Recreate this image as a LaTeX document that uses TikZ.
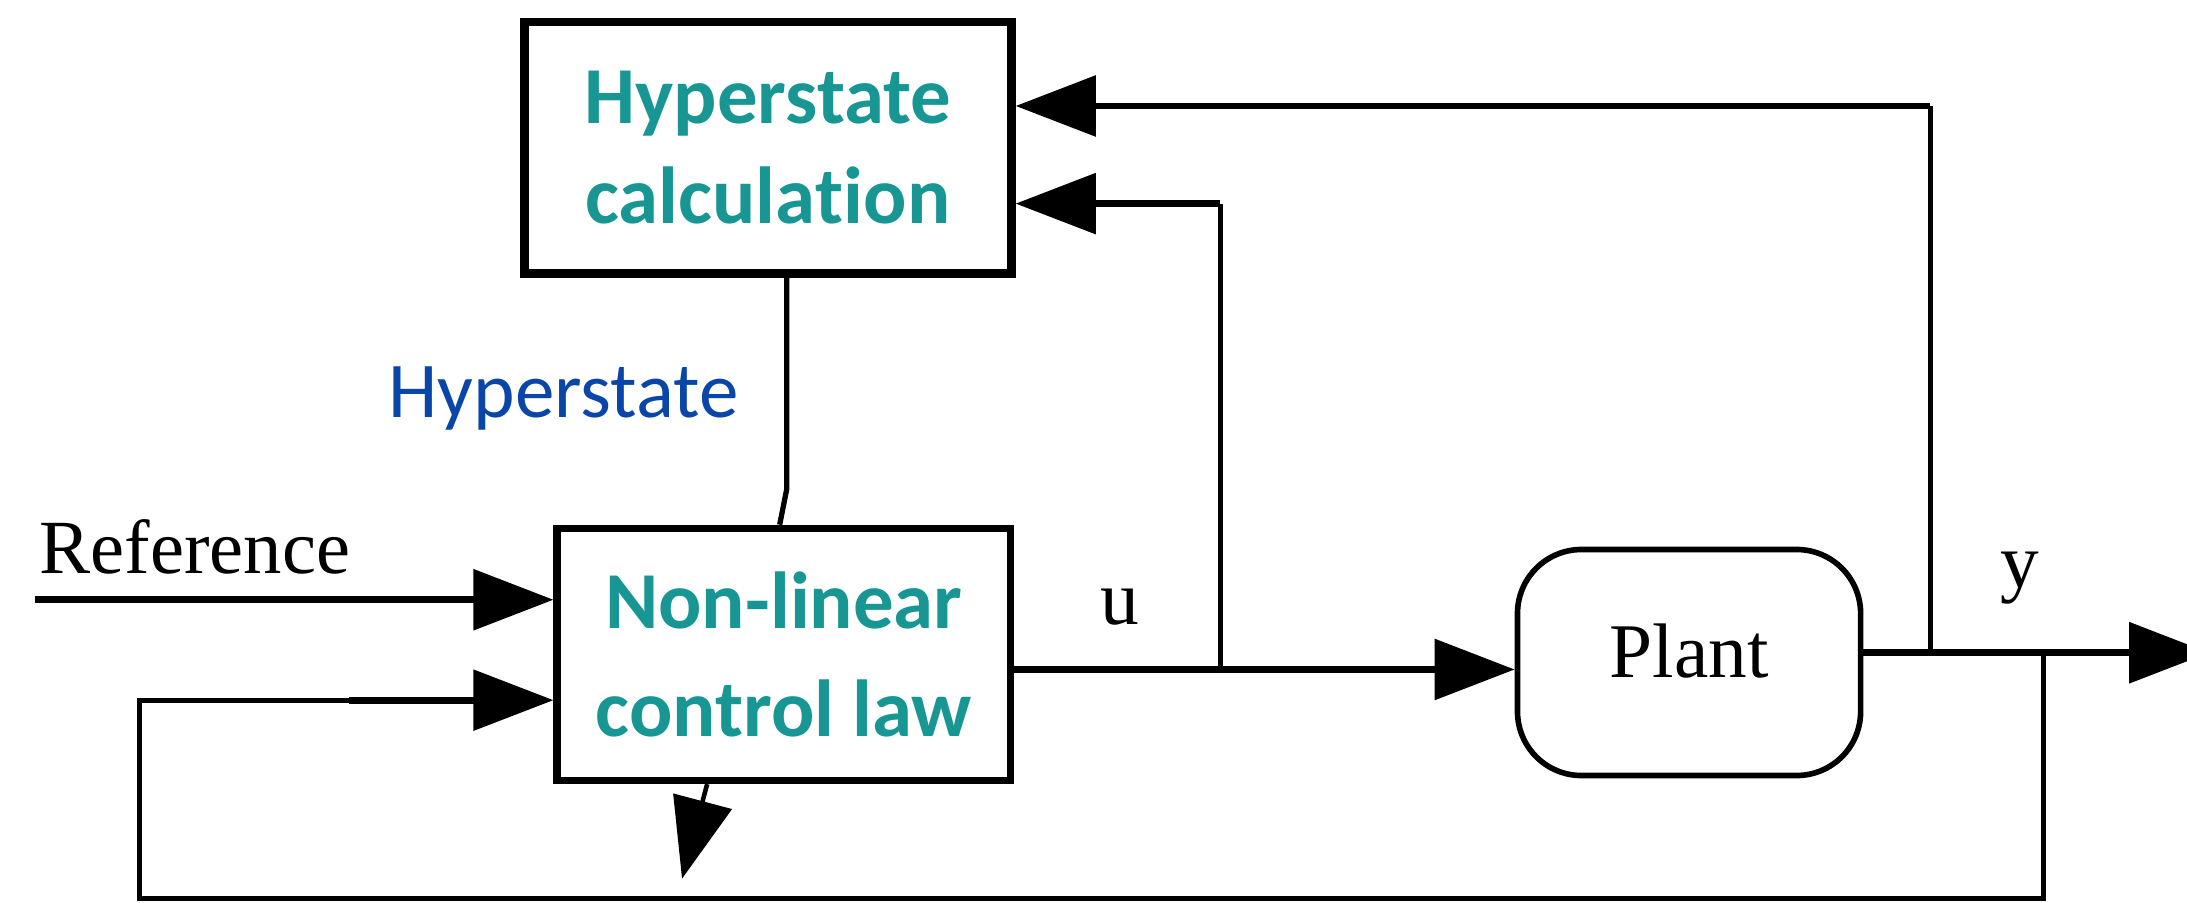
\documentclass[tikz,border=0pt]{standalone}
\usepackage{fontspec}
\setmainfont{Liberation Serif}
\newfontfamily\calfont[Ligatures=NoCommon]{Carlito}
\usetikzlibrary{arrows.meta}

\definecolor{blocktext}{RGB}{23,150,148}
\definecolor{sigblue}{RGB}{10,70,168}

\tikzset{
  bighead/.tip={Triangle[length=22.8pt,width=17pt]},
  blockbox/.style={draw, inner sep=0pt, align=center, text=blocktext,
    font=\calfont\bfseries\fontsize{23}{28.5}\selectfont},
  plantbox/.style={draw, line width=1.6pt, rounded corners=0.64cm, inner sep=0pt,
    minimum width=3.431cm, minimum height=2.26cm, text height=8.8pt, text depth=0pt,
    font=\fontsize{22}{26}\selectfont},
  sig/.style={line width=2pt, -bighead},
  fb/.style={line width=1.6pt},
  fbarrow/.style={line width=1.9pt, -bighead},
  loopline/.style={line width=1.4pt},
  varlabel/.style={font=\fontsize{22}{26}\selectfont, anchor=base, inner sep=0pt},
}

\begin{document}
\begin{tikzpicture}[x=0.013948cm, y=-0.013948cm]
  \useasboundingbox (0,0) rectangle (1568,647);

  % blocks
  \node[blockbox, line width=2.5pt, minimum width=4.868cm, minimum height=2.511cm]
    (hc) at (550.5,105.8) {Hyperstate\\calcula\kern0pt tion};
  \node[blockbox, line width=2.1pt, minimum width=4.533cm, minimum height=2.52cm]
    (nl) at (562,469.2) {\raisebox{2.5pt}{Non-linear}\\control law};
  \node[plantbox] (plant) at (1211,475) {Plant};

  % labels
  \node[anchor=base west, inner sep=0pt, font=\fontsize{21.8}{26}\selectfont]
    (reflabel) at (28,411) {Reference};
  \node[varlabel] (ulabel) at (803,448) {u};
  \node[varlabel] (ylabel) at (1448,421) {y};
  \node[anchor=base, inner sep=0pt, text=sigblue, font=\calfont\fontsize{22.5}{27}\selectfont]
    (hslabel) at (404,299) {Hyperstate};

  % junction points
  \coordinate (refin) at (25,430);
  \coordinate (uA) at (875,480);
  \coordinate (uTop) at (875,146);
  \coordinate (yA) at (1384,468);
  \coordinate (yTop) at (1384,76);
  \coordinate (yB) at (1465,468);
  \coordinate (yEnd) at (1584,468);
  \coordinate (loopBR) at (1465,644);
  \coordinate (loopBL) at (100,644);
  \coordinate (loopTL) at (100,502);
  \coordinate (loopMid) at (250,502);
  \coordinate (hsBend) at (564,351);
  \coordinate (hsFoot) at (559,0);
  \coordinate (dnStart) at (507,0);
  \coordinate (dnTip) at (489,630);

  % reference input
  \draw[sig] (refin) -- (refin -| nl.west);

  % control signal u to the plant, with branch to the hyperstate block
  \draw[sig] (nl.east |- uA) -- (plant.west |- uA);
  \draw[fb] (uA) -- (uTop);
  \draw[fbarrow] (uTop) -- (uTop -| hc.east);

  % plant output y, with branch to the hyperstate block
  \draw[sig] (plant.east |- yA) -- (yEnd);
  \draw[fb] (yA) -- (yTop);
  \draw[fbarrow] (yTop) -- (yTop -| hc.east);

  % output feedback loop into the control law
  \draw[loopline] (yB) -- (loopBR) -- (loopBL) -- (loopTL) -- (loopMid);
  \draw[sig, line width=1.9pt] (loopMid) -- (loopMid -| nl.west);

  % hyperstate link between the blocks
  \draw[line width=1.5pt] (hsBend |- hc.south) -- (hsBend) -- (hsFoot |- nl.north);

  % downward output of the control law
  \draw[line width=1.3pt, -bighead] (dnStart |- nl.south) -- (dnTip);
\end{tikzpicture}
\end{document}
